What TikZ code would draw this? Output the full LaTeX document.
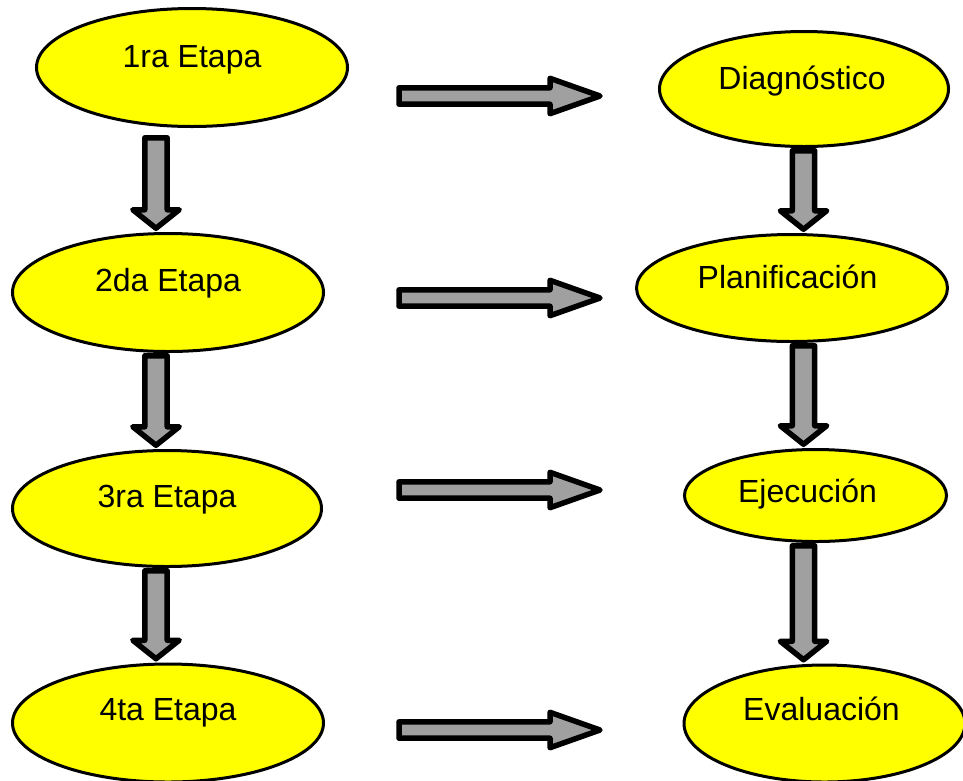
\documentclass[tikz,border=0pt]{standalone}
\usepackage{fontspec}
\setmainfont{Liberation Sans}
\usetikzlibrary{shapes.geometric,calc}
\definecolor{ellyellow}{HTML}{FFFF00}
\definecolor{arrowgray}{HTML}{A0A0A0}
% vertical block arrow: #1 from node, #2 to node, #3 column coordinate, #4 start gap
\newcommand\VBlockArrow[4]{%
  \path[blockarrow] let \p1=(#1.south -| #3), \p2=(#2.north -| #3) in
    (\x1-11.2pt,\y1-#4) -- (\x1+11.2pt,\y1-#4) -- (\x1+11.2pt,\y2+22.25pt) --
    (\x1+23.2pt,\y2+22.25pt) -- (\x1,\y2+3.75pt) -- (\x1-23.2pt,\y2+22.25pt) --
    (\x1-11.2pt,\y2+22.25pt) -- cycle;}
% horizontal block arrow between two named coordinates
\newcommand\HBlockArrow[2]{%
  \path[blockarrow] let \p1=(#1), \p2=(#2) in
    (\x1,\y1+8.2pt) -- (\x2-50pt,\y1+8.2pt) -- (\x2-50pt,\y1+17.7pt) --
    (\x2,\y2) -- (\x2-50pt,\y1-17.7pt) -- (\x2-50pt,\y1-8.2pt) --
    (\x1,\y1-8.2pt) -- cycle;}
\begin{document}
\begin{tikzpicture}[x=1pt,y=-1pt,
  stage/.style={ellipse, draw=black, line width=3pt, fill=ellyellow,
    inner sep=0pt, font=\fontsize{32}{37}\selectfont},
  blockarrow/.style={fill=arrowgray, draw=black, line width=5.5pt, line join=round}]
\useasboundingbox (0,0) rectangle (963,780);
\fill[white] (0,0) rectangle (963,780);

% left column
\node[stage, minimum width=311, minimum height=118, text height=19.5pt, text depth=20.5pt] (e1) at (192,67.5) {1ra Etapa};
\node[stage, minimum width=311, minimum height=118, text height=18.5pt, text depth=21.5pt] (e2) at (168,292.5) {2da Etapa};
\node[stage, minimum width=309, minimum height=116, text height=18.5pt, text depth=21.5pt] (e3) at (167,508.5) {3ra Etapa};
\node[stage, minimum width=311, minimum height=118, text height=17pt, text depth=23pt] (e4) at (168,723) {4ta Etapa};

% right column
\node[stage, minimum width=289, minimum height=115, text height=20pt, text depth=20pt] (d) at (804,89) {\hspace*{-4pt}Diagnóstico};
\node[stage, minimum width=311, minimum height=107, text height=20pt, text depth=20pt] (p) at (792,288) {\hspace*{-9pt}Planificación};
\node[stage, minimum width=262, minimum height=92, text height=27pt, text depth=13pt] (ej) at (815.5,495.5) {\hspace*{-16pt}Ejecución};
\node[stage, minimum width=281, minimum height=117, text height=16.5pt, text depth=23.5pt] (ev) at (824.5,723.5) {\hspace*{-6pt}Evaluación};

% columns of the vertical arrows
\coordinate (colL) at (156,0);
\coordinate (colR) at (803.5,0);

\VBlockArrow{e1}{e2}{colL}{9.8pt}
\VBlockArrow{e2}{e3}{colL}{2.75pt}
\VBlockArrow{e3}{e4}{colL}{2.75pt}
\VBlockArrow{d}{p}{colR}{2.75pt}
\VBlockArrow{p}{ej}{colR}{2.75pt}
\VBlockArrow{ej}{ev}{colR}{2.75pt}

% horizontal arrows
\coordinate (h1a) at (399,96);  \coordinate (h1b) at (600,96);
\coordinate (h2a) at (399,298); \coordinate (h2b) at (600,298);
\coordinate (h3a) at (399,490); \coordinate (h3b) at (600,490);
\coordinate (h4a) at (399,730); \coordinate (h4b) at (600,730);
\HBlockArrow{h1a}{h1b}
\HBlockArrow{h2a}{h2b}
\HBlockArrow{h3a}{h3b}
\HBlockArrow{h4a}{h4b}
\end{tikzpicture}
\end{document}
